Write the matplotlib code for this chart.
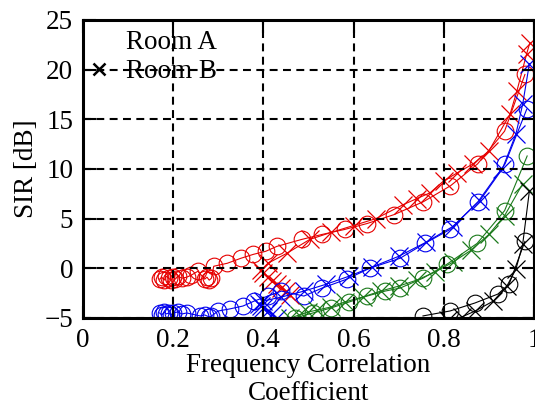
import matplotlib.pyplot as plt
from matplotlib.lines import Line2D

plt.rcParams['font.family'] = ['Liberation Serif', 'DejaVu Serif']

# Room A (circles) and Room B (crosses) for four conditions
red_a_x = [0.17, 0.175, 0.18, 0.185, 0.19, 0.195, 0.20, 0.205, 0.21, 0.22, 0.23, 0.24,
           0.255, 0.27, 0.275, 0.28, 0.285, 0.29, 0.32, 0.35, 0.378, 0.405, 0.43,
           0.485, 0.53, 0.58, 0.63, 0.69, 0.755, 0.815, 0.875, 0.935, 0.98]
red_a_y = [-1.1, -0.9, -1.2, -0.8, -1.0, -1.2, -0.9, -1.1, -0.8, -1.0, -0.9, -0.7,
           -0.3, -1.1, -0.9, -1.2, -1.0, 0.2, 0.5, 1.0, 1.4, 1.7, 2.2,
           2.9, 3.4, 3.9, 4.5, 5.4, 6.7, 8.3, 10.5, 13.8, 19.5]
red_b_x = [0.46, 0.45, 0.44, 0.43, 0.42, 0.41, 0.40, 0.395, 0.41, 0.452, 0.503,
           0.55, 0.6, 0.65, 0.71, 0.74, 0.77, 0.80, 0.83, 0.865, 0.90, 0.947,
           0.962, 0.984, 0.991]
red_b_y = [-2.7, -2.3, -2.0, -1.6, -1.3, -0.9, -0.5, -0.2, 0.5, 1.5, 2.9,
           3.6, 4.3, 5.0, 6.4, 7.0, 7.6, 8.8, 9.6, 10.5, 11.8, 15.5,
           17.8, 21.6, 22.7]

blue_a_x = [0.17, 0.175, 0.18, 0.185, 0.19, 0.195, 0.20, 0.21, 0.22, 0.23,
            0.26, 0.27, 0.28, 0.285, 0.3, 0.325, 0.355, 0.38, 0.41, 0.44, 0.49,
            0.53, 0.585, 0.636, 0.703, 0.758, 0.814, 0.876, 0.936, 0.984]
blue_a_y = [-4.5, -4.7, -4.4, -4.6, -4.5, -4.7, -4.5, -4.4, -4.6, -4.5,
            -4.8, -4.7, -4.9, -4.8, -4.3, -4.1, -3.8, -3.3, -2.8, -2.3, -2.8,
            -2.0, -1.1, 0.0, 1.0, 2.5, 3.9, 6.7, 10.5, 16.0]
blue_b_x = [0.43, 0.42, 0.41, 0.40, 0.395, 0.39, 0.40, 0.44, 0.49, 0.54, 0.59,
            0.64, 0.70, 0.76, 0.82, 0.88, 0.93, 0.96, 0.975, 0.99]
blue_b_y = [-5.0, -4.6, -4.3, -4.0, -3.8, -3.6, -3.3, -2.9, -2.3, -1.6, -0.8,
            0.1, 1.2, 2.6, 4.2, 6.8, 10.0, 13.5, 16.5, 20.6]

green_a_x = [0.47, 0.51, 0.55, 0.59, 0.63, 0.67, 0.703, 0.754, 0.807, 0.874,
             0.935, 0.985]
green_a_y = [-5.0, -4.5, -4.0, -3.4, -2.8, -2.3, -2.0, -1.0, 0.4, 2.5,
             5.8, 11.3]
green_b_x = [0.46, 0.48, 0.5, 0.52, 0.55, 0.58, 0.62, 0.66, 0.70, 0.74, 0.78,
             0.82, 0.86, 0.90, 0.935, 0.975]
green_b_y = [-5.0, -4.7, -4.4, -4.2, -3.9, -3.4, -2.9, -2.3, -1.8, -1.2, -0.4,
             0.6, 1.8, 3.4, 5.3, 8.5]

black_a_x = [0.754, 0.814, 0.869, 0.92, 0.945, 0.98]
black_a_y = [-4.8, -4.3, -3.5, -2.6, -1.6, 2.7]
black_b_x = [0.81, 0.84, 0.87, 0.91, 0.94, 0.96, 0.975, 0.99]
black_b_y = [-5.2, -4.9, -4.3, -3.3, -1.8, -0.1, 2.4, 7.8]

colors = ['#e60000', '#0000ee', '#1b7a1b', '#000000']
series = [
    (red_a_x, red_a_y, red_b_x, red_b_y),
    (blue_a_x, blue_a_y, blue_b_x, blue_b_y),
    (green_a_x, green_a_y, green_b_x, green_b_y),
    (black_a_x, black_a_y, black_b_x, black_b_y),
]

fig = plt.figure(figsize=(5.35, 4.05), dpi=100)
ax = fig.add_axes([0.155, 0.215, 0.843, 0.736])

for c, (ax_x, ax_y, bx, by) in zip(colors, series):
    ax.plot(ax_x, ax_y, color=c, lw=0.8, marker='o', ms=12, mfc='none',
            mec=c, mew=0.8)
    ax.plot(bx, by, color=c, lw=0.8, marker='x', ms=13, mew=0.9)

ax.set_xlim(0, 1)
ax.set_ylim(-5, 25)
ax.set_xticks([0, 0.2, 0.4, 0.6, 0.8, 1])
ax.set_xticklabels(['0', '0.2', '0.4', '0.6', '0.8', '1'])
ax.set_yticks([-5, 0, 5, 10, 15, 20, 25])
ax.grid(True, color='black', lw=1.5, linestyle=(0, (3.8, 2.6)))
ax.set_axisbelow(False)
ax.tick_params(direction='in', length=9, width=1.5, labelsize=19.5,
               top=True, right=True, pad=7)
for s in ax.spines.values():
    s.set_linewidth(2.2)

ax.set_ylabel('SIR [dB]', fontsize=19.5, labelpad=4)
ax.set_xlabel('Frequency Correlation\nCoefficient', fontsize=19.5,
              labelpad=0, linespacing=1.2)

handles = [Line2D([], [], ls='none', marker='none'),
           Line2D([], [], ls='none', marker='x', color='black', ms=9, mew=1.8)]
ax.legend(handles, ['Room A', 'Room B'], loc='upper left', frameon=False,
          fontsize=19.5, handlelength=0.8, handletextpad=0.6,
          borderaxespad=0.2, labelspacing=0.15, bbox_to_anchor=(-0.025, 1.02))

fig.savefig('out.png', dpi=100)
